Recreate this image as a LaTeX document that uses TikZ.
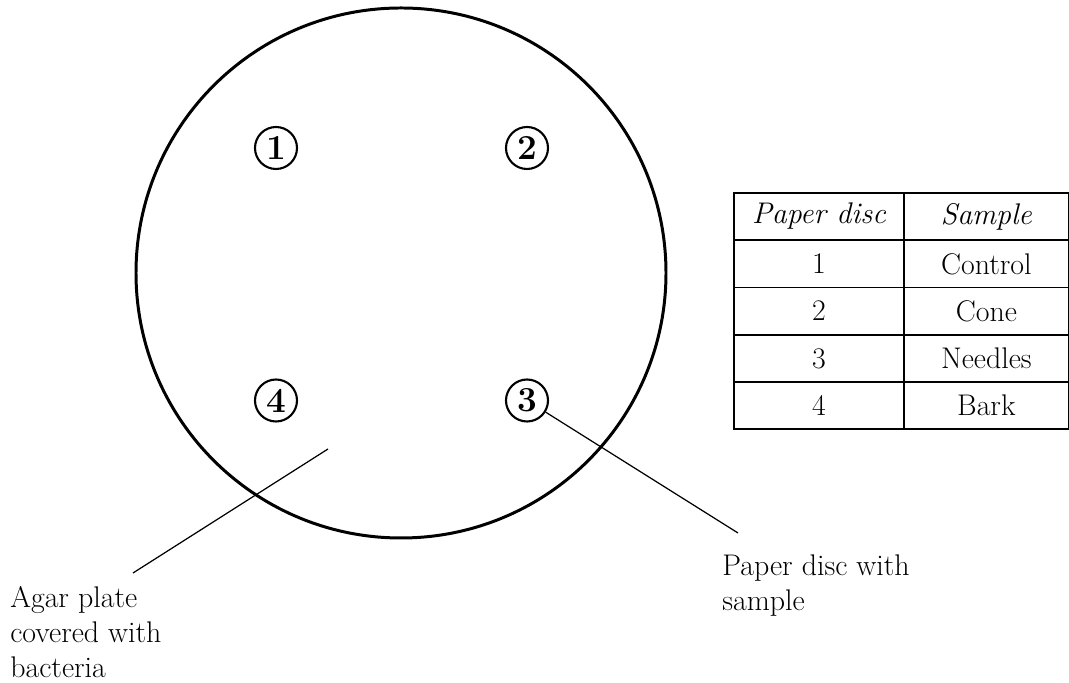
\documentclass[tikz,border=0pt]{standalone}
\usetikzlibrary{matrix,positioning}
\begin{document}
\begin{tikzpicture}[% styles used in image code
  plate/.style = {draw, line width=1.7pt},
   disc/.style = {circle, draw, line width=1.2pt,
                  minimum size=8.4mm, inner sep=0pt,
                  font=\bfseries\fontsize{20}{20}\selectfont},
 leader/.style = {draw, line width=0.7pt},
    lbl/.style = {align=left, inner sep=0pt,
                  font=\fontsize{17}{20}\selectfont},
   cell/.style = {draw, line width=1pt, minimum height=9.46mm,
                  inner sep=0pt, anchor=center,
                  font=\fontsize{17}{20}\selectfont}
                    ]
	\useasboundingbox (0,0) rectangle (21.38,13.66);

	% agar plate
	\coordinate (O) at (8.02,8.20);
	\draw[plate] (O) circle (5.30);

	% paper discs
	\node[disc] (d1) at (5.52,10.70) {1};
	\node[disc] (d2) at (10.54,10.70) {2};
	\node[disc] (d3) at (10.54,5.65) {3};
	\node[disc] (d4) at (5.52,5.65) {4};

	% labels
	\node[lbl, anchor=north west] (agar) at (0.20,1.94)
	     {Agar plate\\covered with\\bacteria};
	\node[lbl, anchor=north west] (paper) at (14.44,2.58)
	     {Paper disc with\\sample};

	\coordinate (a) at (6.56,4.68);
	\coordinate (a') at (2.66,2.20);
	\coordinate (b') at (14.76,3.00);
	\draw[leader] (a) -- (a');
	\draw[leader] (d3.-32) -- (b');

	% table of samples
	\matrix (samples) [matrix of nodes, anchor=north west,
	                   inner sep=0pt, outer sep=0pt,
	                   nodes={cell},
	                   column sep=-1pt, row sep=-1pt,
	                   column 1/.style={nodes={minimum width=34mm}},
	                   column 2/.style={nodes={minimum width=33mm}}]
	      at (14.66,9.82) {
	  \itshape Paper disc & \itshape Sample \\
	  1 & Control \\
	  2 & Cone    \\
	  3 & Needles \\
	  4 & Bark    \\
	};
\end{tikzpicture}
\end{document}
